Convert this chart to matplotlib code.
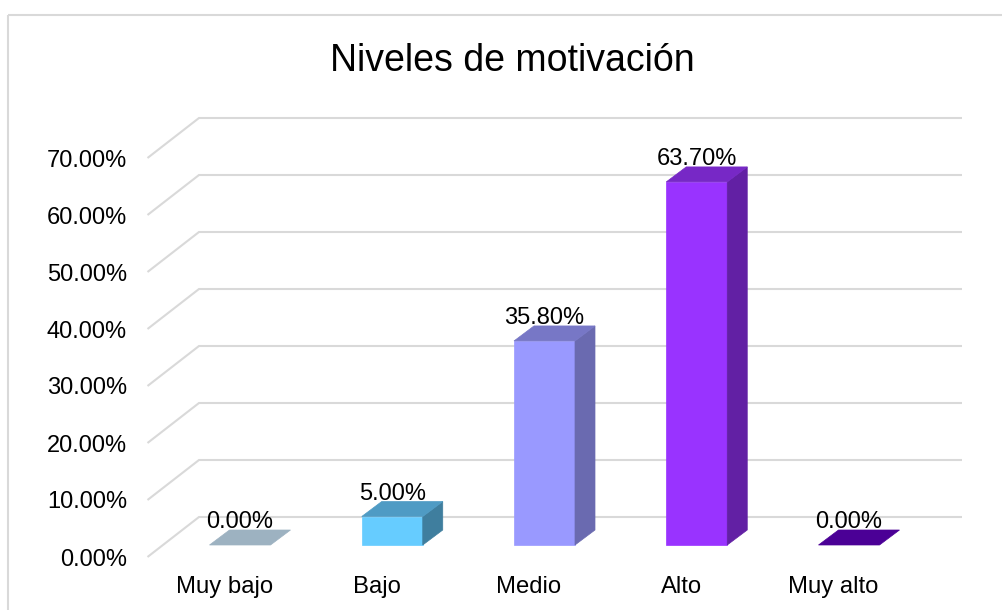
import matplotlib
matplotlib.use("Agg")
import matplotlib.pyplot as plt
from matplotlib.patches import Polygon

plt.rcParams['font.family'] = ['Liberation Sans', 'DejaVu Sans']

title = "Niveles de motivación"
categories = ["Muy bajo", "Bajo", "Medio", "Alto", "Muy alto"]
values = [0.0, 5.0, 35.8, 63.7, 0.0]
value_labels = ["0.00%", "5.00%", "35.80%", "63.70%", "0.00%"]
y_ticks = [0, 10, 20, 30, 40, 50, 60, 70]
front_colors = ["#A5BBCB", "#66CCFF", "#9999FF", "#9933FF", "#5200A3"]
top_colors = ["#9DB2C1", "#4F9BC4", "#7777C6", "#7728C6", "#4B0096"]
side_colors = ["#7F919E", "#3F7E9E", "#6A6AB0", "#6220A4", "#3A0074"]

W, H = 1003, 610
PX_X = 152.25     # pixels per category
PX_Y = 5.7        # pixels per percentage point
X0_PX, Y0_PX = 240.0, 545.0

fig = plt.figure(figsize=(W / 100, H / 100), dpi=100, facecolor="white")
ax = fig.add_axes([0, 0, 1, 1])
ax.set_xlim(-X0_PX / PX_X, (W - X0_PX) / PX_X)
ax.set_ylim((Y0_PX - H) / PX_Y, Y0_PX / PX_Y)
ax.axis("off")

def ux(px):
    return px / PX_X

def uy(px):
    return px / PX_Y

half = ux(30.5)
dx, dy = ux(20), uy(15)

# outer chart border (runs off the image to the right and bottom)
ax.plot([ux(8 - X0_PX), ux(8 - X0_PX)], [uy(Y0_PX - H), uy(Y0_PX - 15)],
        color="#D9D9D9", lw=1.5, zorder=1, solid_capstyle="butt")
ax.plot([ux(8 - X0_PX), ux(W - X0_PX)], [uy(Y0_PX - 15), uy(Y0_PX - 15)],
        color="#D9D9D9", lw=1.5, zorder=1, solid_capstyle="butt")

# gridlines: slanted floor segment plus back wall segment
x_front = ux(147.5 - X0_PX)
x_back = ux(199 - X0_PX)
x_end = ux(962 - X0_PX)
for v in y_ticks:
    y_f = v - uy(12)
    y_b = v + uy(28)
    ax.plot([x_front, x_back, x_end], [y_f, y_b, y_b], color="#D9D9D9", lw=1.5,
            zorder=2, solid_joinstyle="miter", solid_capstyle="butt")
    ax.text(ux(127 - X0_PX), y_f - uy(2.5), f"{v:.2f}%", ha="right", va="center",
            fontsize=17, color="#000000", zorder=6)

# 3D bars
for i, (v, fc, tc, sc) in enumerate(zip(values, front_colors, top_colors, side_colors)):
    l, r = i - half, i + half
    if v > 0:
        ax.add_patch(Polygon([(l, 0), (r, 0), (r, v), (l, v)], closed=True,
                             facecolor=fc, edgecolor=fc, lw=0.5, zorder=3))
        ax.add_patch(Polygon([(r, 0), (r + dx, dy), (r + dx, v + dy), (r, v)], closed=True,
                             facecolor=sc, edgecolor=sc, lw=0.5, zorder=3))
    ax.add_patch(Polygon([(l, v), (r, v), (r + dx, v + dy), (l + dx, v + dy)], closed=True,
                         facecolor=tc, edgecolor=tc, lw=0.5, zorder=3))
    ax.text(i, v + uy(23), value_labels[i], ha="center", va="center",
            fontsize=17, color="#000000", zorder=6)
    ax.text(i - ux(15.5), uy(-42), categories[i], ha="center", va="center",
            fontsize=17.2, color="#000000", zorder=6)

ax.text(ux(512 - X0_PX), uy(Y0_PX - 60.5), title, ha="center", va="center",
        fontsize=27, color="#000000", zorder=6)

fig.savefig("out.png", dpi=100, facecolor="white")
